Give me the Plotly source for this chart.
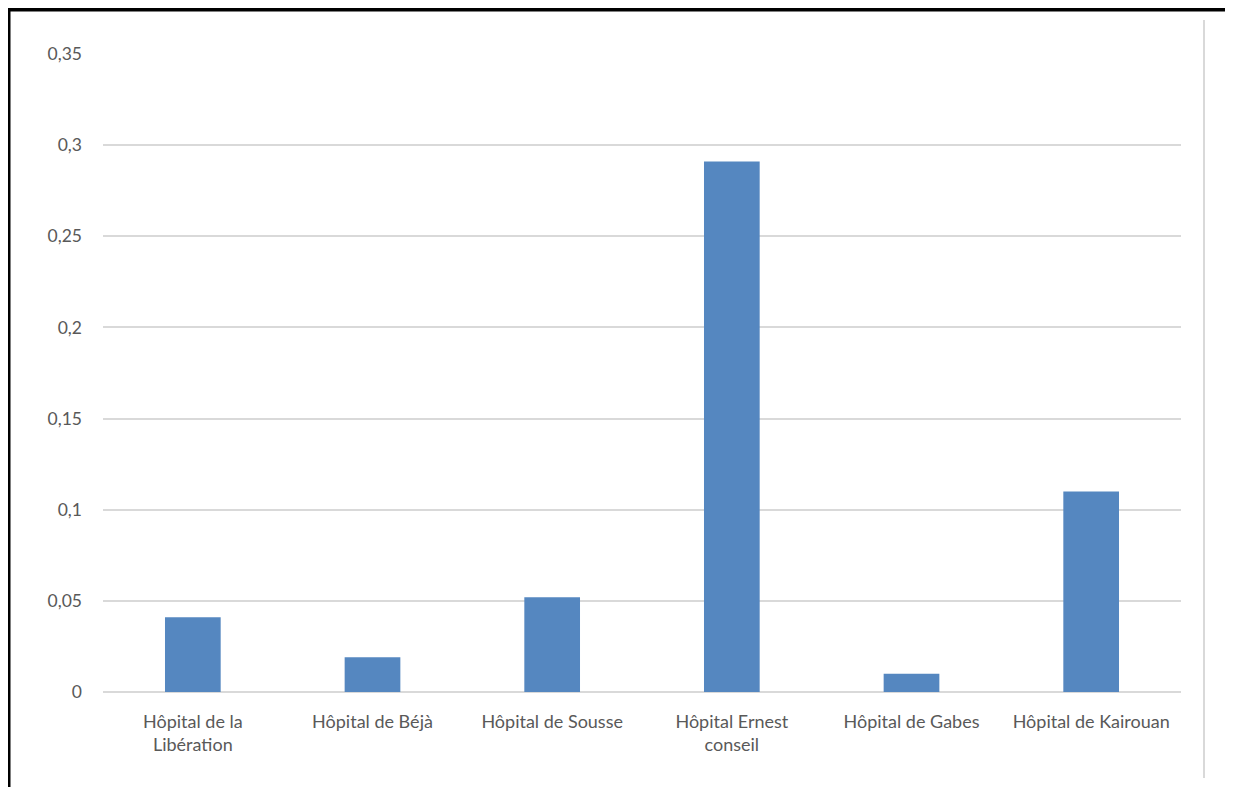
import plotly.graph_objects as go

categories = ["Hôpital de la<br>Libération", "Hôpital de Béjà", "Hôpital de Sousse",
              "Hôpital Ernest<br>conseil", "Hôpital de Gabes", "Hôpital de Kairouan"]
values = [0.041, 0.019, 0.052, 0.291, 0.010, 0.110]
y_ticks = [0, 0.05, 0.1, 0.15, 0.2, 0.25, 0.3, 0.35]
y_ticktext = ["0", "0,05", "0,1", "0,15", "0,2", "0,25", "0,3", "0,35"]

OFF = 8  # page body offset
W, H = 1233 - OFF, 787 - OFF
L, T = 103 - OFF, 54 - OFF
R = W - (1181 - OFF)
B = H - (692 - OFF)
pw, ph = W - L - R, H - T - B

def px(x):
    return (x - OFF - L) / pw

def py(y):
    return (H - B - (y - OFF)) / ph

fig = go.Figure(go.Bar(x=categories, y=values, marker=dict(color="#5587C0", line=dict(width=0)),
                       width=0.31))

fig.update_layout(
    width=W, height=H,
    margin=dict(l=L, r=R, t=T, b=B),
    plot_bgcolor="white", paper_bgcolor="white",
    font=dict(family="Lato", size=18, color="#595959"),
    showlegend=False,
    xaxis=dict(showgrid=False, showline=False, ticks="", ticklabelstandoff=17,
               tickfont=dict(size=18, color="#595959")),
    yaxis=dict(range=[0, 0.35], tickvals=y_ticks, ticktext=y_ticktext,
               showgrid=True, gridcolor="#D9D9D9", gridwidth=1.5,
               zeroline=True, zerolinecolor="#D9D9D9", zerolinewidth=1.5,
               showline=False, ticks="", ticklabelstandoff=20,
               tickfont=dict(size=17.5, color="#595959")),
    shapes=[
        dict(type="line", xref="paper", yref="paper", x0=px(6), x1=px(1240), y0=py(9.5), y1=py(9.5),
             line=dict(color="black", width=4)),
        dict(type="line", xref="paper", yref="paper", x0=px(8.5), x1=px(8.5), y0=py(8), y1=py(790),
             line=dict(color="black", width=4)),
        dict(type="line", xref="paper", yref="paper", x0=px(1204), x1=px(1204), y0=py(20), y1=py(778),
             line=dict(color="#D9D9D9", width=2)),
    ],
)

fig.write_html("out.html")
